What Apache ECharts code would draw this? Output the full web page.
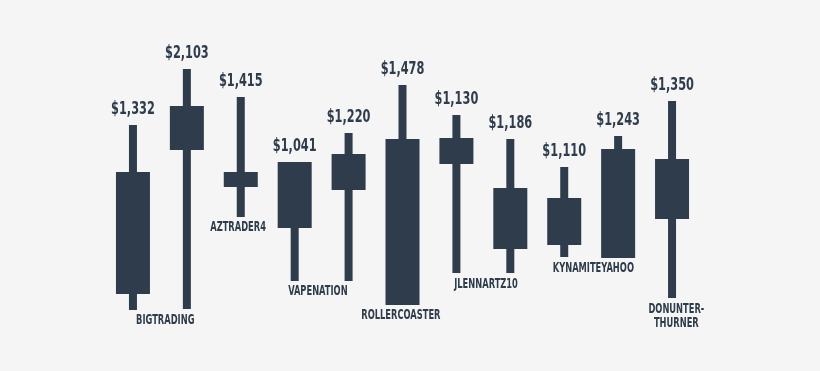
<!DOCTYPE html>
<html>
<head>
<meta charset="utf-8">
<script src="https://cdn.jsdelivr.net/npm/echarts@6/dist/echarts.min.js"></script>
<style>
html,body{margin:0;padding:0;background:#f5f5f5;}
#c{width:820px;height:371px;}
</style>
</head>
<body>
<div id="c"></div>
<script>
// Price labels shown above each candle
const priceLabels = ['$1,332','$2,103','$1,415','$1,041','$1,220','$1,478','$1,130','$1,186','$1,110','$1,243','$1,350'];
// Relative levels (arbitrary units)
const bodyLow  = [26, 170, 133, 92, 130, 15, 156, 71, 75, 62, 101];
const bodyHigh = [148, 214, 148, 158, 166, 181, 182, 132, 122, 171, 161];
const wickLow  = [10, 11, 103, 39, 39, 15, 47, 47, 63, 62, 22];
const wickHigh = [195, 251, 223, 158, 187, 235, 205, 181, 153, 184, 219];
// Trader names: anchor (candle index), level, text
const nameX     = [0.6, 1.95, 3.43, 4.97, 6.55, 8.54, 10.08];
const nameY     = [0, 93, 29, 5, 36, 52, 4];
const nameTexts = ['BIGTRADING','AZTRADER4','VAPENATION','ROLLERCOASTER','JLENNARTZ10','KYNAMITEYAHOO','DONUNTER-\nTHURNER'];

const COLOR = '#2f3c4b';
const FONT = '"DejaVu Sans Condensed","DejaVu Sans",sans-serif';

const candleData = priceLabels.map((p, i) => [i, bodyLow[i], bodyHigh[i], wickLow[i], wickHigh[i]]);
const nameData = nameTexts.map((t, i) => [nameX[i], nameY[i]]);

const chart = echarts.init(document.getElementById('c'), null, {renderer: 'canvas'});
chart.setOption({
  backgroundColor: '#f5f5f5',
  animation: false,
  grid: {left: 106, right: 121, top: 20, bottom: 51},
  xAxis: {type: 'value', min: -0.5, max: 10.5, show: false},
  yAxis: {type: 'value', min: 0, max: 300, show: false},
  series: [{
    type: 'custom',
    data: candleData,
    encode: {x: 0, y: [1, 2, 3, 4]},
    renderItem: function (params, api) {
      const i = api.value(0);
      const bl = api.coord([i, api.value(1)]);
      const bh = api.coord([i, api.value(2)]);
      const wl = api.coord([i, api.value(3)]);
      const wh = api.coord([i, api.value(4)]);
      const bw = 34, ww = 8;
      return {
        type: 'group',
        children: [
          {type: 'rect', shape: {x: wh[0] - ww / 2, y: wh[1], width: ww, height: wl[1] - wh[1]}, style: {fill: COLOR}},
          {type: 'rect', shape: {x: bh[0] - bw / 2, y: bh[1], width: bw, height: bl[1] - bh[1]}, style: {fill: COLOR}},
          {type: 'text', x: wh[0], y: wh[1] - 16, scaleX: 0.7, style: {
            text: priceLabels[params.dataIndex], fill: COLOR, font: 'bold 18px ' + FONT,
            align: 'center', verticalAlign: 'middle'}}
        ]
      };
    }
  }, {
    type: 'custom',
    data: nameData,
    encode: {x: 0, y: 1},
    silent: true,
    renderItem: function (params, api) {
      const p = api.coord([api.value(0), api.value(1)]);
      return {
        type: 'text', x: p[0], y: p[1], scaleX: 0.66,
        style: {
          text: nameTexts[params.dataIndex], fill: COLOR,
          font: 'bold 14px ' + FONT, lineHeight: 14,
          align: 'center', verticalAlign: 'middle'
        }
      };
    }
  }]
});
</script>
</body>
</html>
